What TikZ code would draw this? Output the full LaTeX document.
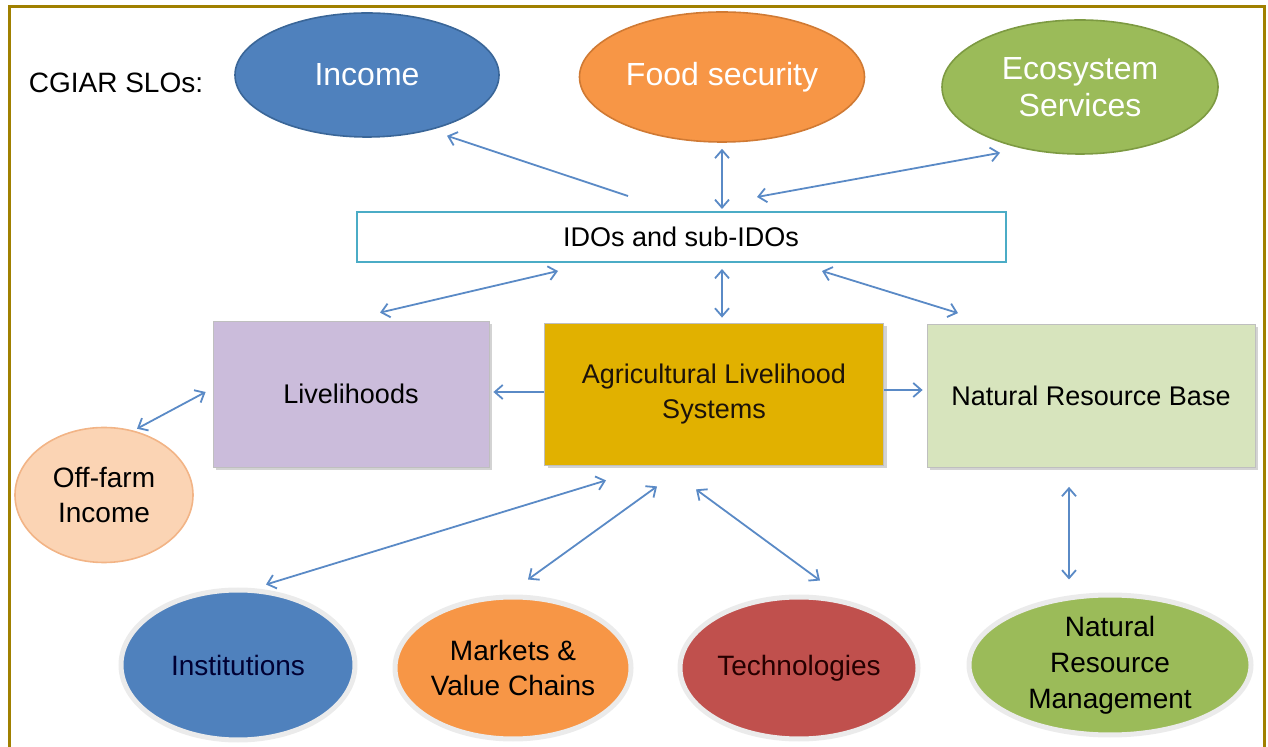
\documentclass[tikz,border=0pt]{standalone}
\usepackage{fontspec}
\setmainfont{Liberation Sans}
\usetikzlibrary{arrows.meta}
\usetikzlibrary{positioning}
\usetikzlibrary{calc}
\usetikzlibrary{shapes.geometric}
\usetikzlibrary{shadows}

\definecolor{sloblue}{HTML}{4F81BD}
\definecolor{sloblueD}{HTML}{3A6698}
\definecolor{sloorange}{HTML}{F79646}
\definecolor{sloorangeD}{HTML}{D07A34}
\definecolor{slogreen}{HTML}{9BBB59}
\definecolor{slogreenD}{HTML}{7D9A42}
\definecolor{techred}{HTML}{C0504D}
\definecolor{idoteal}{HTML}{4BACC6}
\definecolor{livlilac}{HTML}{CBBCDB}
\definecolor{agrigold}{HTML}{E1B100}
\definecolor{nrbgreen}{HTML}{D7E4BD}
\definecolor{offpeach}{HTML}{FBD4B4}
\definecolor{offpeachD}{HTML}{F2B486}
\definecolor{arrowblue}{HTML}{5A8AC6}
\definecolor{framegold}{HTML}{A08000}

\begin{document}
\begin{tikzpicture}[x=0.5pt,y=-0.5pt,>={Straight Barb[length=4pt,width=7pt]},
					link/.style={draw=arrowblue,line width=0.9pt},
					font=\fontsize{13.5}{17.5}\selectfont]
					\tikzstyle{slo}=[ellipse,inner sep=0pt,text=white,font=\fontsize{16}{18.5}\selectfont,align=center,line width=0.8pt]
					\tikzstyle{lever}=[ellipse,inner sep=0pt,draw=black!8,line width=2.5pt,font=\fontsize{14}{17.5}\selectfont,align=center]
					\tikzstyle{sysbox}=[rectangle,inner sep=0pt,draw=black!25,align=center,
						drop shadow={shadow xshift=1.5pt,shadow yshift=-1.5pt,opacity=0.35}]
					
					\useasboundingbox (0,0) rectangle (1268,747);
					\draw[framegold,line width=1.5pt] (9,760) -- (9,7) -- (1264,7) -- (1264,760);
					
					\node (cgiar) at (116,83) {\fontsize{14}{17}\selectfont CGIAR SLOs:};
					\node[slo,fill=sloblue,draw=sloblueD,minimum width=132pt,minimum height=62pt]        (inc)  at (367,75)  {Income};
					\node[slo,fill=sloorange,draw=sloorangeD,minimum width=142.5pt,minimum height=65pt] (food) at (722,77)  {Food security};
					\node[slo,fill=slogreen,draw=slogreenD,minimum width=138pt,minimum height=67pt]     (eco)  at (1080,87) {Ecosystem\\Services};
					
					\node[rectangle,draw=idoteal,line width=1pt,fill=white,minimum width=324.5pt,minimum height=25pt] (ido) at (681,237) {IDOs and sub-IDOs};
					
					\node[sysbox,fill=livlilac,minimum width=138pt,minimum height=73pt]   (liv)  at (351,394)  {Livelihoods};
					\node[sysbox,fill=agrigold,text=black!85!brown,minimum width=169.5pt,minimum height=71pt] (agri) at (714,394) {Agricultural Livelihood\\Systems};
					\node[sysbox,fill=nrbgreen,minimum width=164pt,minimum height=71.5pt] (nrb)  at (1091,396) {Natural Resource Base};
					
					\node[ellipse,inner sep=0pt,fill=offpeach,draw=offpeachD,line width=0.8pt,align=center,
						font=\fontsize{14}{17.5}\selectfont,minimum width=89pt,minimum height=67.5pt] (off) at (104,495) {Off-farm\\Income};
					
					\node[lever,fill=sloblue,text=black!80!blue,minimum width=117pt,minimum height=75pt] (inst) at (238,665) {Institutions};
					\node[lever,fill=sloorange,minimum width=118pt,minimum height=71pt]  (mkt)  at (513,668) {Markets \&\\Value Chains};
					\node[lever,fill=techred,text=black!85!red,minimum width=119pt,minimum height=71pt] (tech) at (799,668) {Technologies};
					\node[lever,fill=slogreen,font=\fontsize{14}{18}\selectfont,minimum width=141pt,minimum height=70pt] (nrm) at (1110,665) {Natural\\Resource\\Management};
					
					% SLOs and IDOs
					\path[link]
					($(ido.north)+(-53,-15)$) edge[->]  ($(inc.south)+(80,-2)$)
					($(food.south)+(0,6)$)    edge[<->] ($(ido.north)+(41,-2)$)
					($(ido.north)+(76,-14)$)  edge[<->] ($(eco.south)+(-80,-2)$)
					($(ido.south)+(-123,8)$)  edge[<->] ($(liv.north)+(29,-8)$)
					($(ido.south)+(41,6)$)    edge[<->] ($(agri.north)+(8,-5)$)
					($(ido.south)+(141,8)$)   edge[<->] ($(nrb.north)+(-133,-11)$);
					
					% system level
					\path[link]
					($(agri.west)+(0,-2)$) edge[->,shorten >=2pt]  ($(liv.east)+(0,-2)$)
					($(agri.east)+(0,-4)$) edge[->,shorten >=2pt]  ($(agri.east-|nrb.west)+(0,-4)$)
					($(off.north)+(33,2)$) edge[<->] ($(liv.west)+(-7,-2)$)
					($(agri.south)+(-108,15)$) edge[<->] ($(inst.north)+(28,-3)$)
					($(agri.south)+(-57,21)$)  edge[<->] ($(mkt.north)+(15,-15)$)
					($(agri.south)+(-18,24)$)  edge[<->] ($(tech.north)+(21,-14)$)
					($(nrb.south)+(-22,19)$)   edge[<->] ($(nrm.north)+(-41,-13)$);
					
					\end{tikzpicture}
\end{document}
